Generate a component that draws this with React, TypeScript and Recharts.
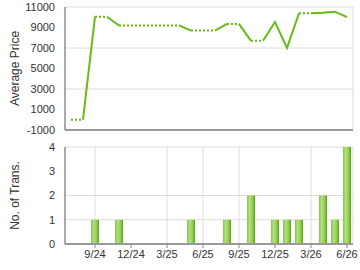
import React from 'react';
import { ComposedChart, Line, Bar, XAxis, YAxis, CartesianGrid } from 'recharts';

// month 1 = 7/24 ... month 24 = 6/26
const MONTH_LABELS = [
    '7/24', '8/24', '9/24', '10/24', '11/24', '12/24', '1/25', '2/25', '3/25', '4/25', '5/25', '6/25',
    '7/25', '8/25', '9/25', '10/25', '11/25', '12/25', '1/26', '2/26', '3/26', '4/26', '5/26', '6/26',
];
const AVG_PRICE = [
    0, 0, 10050, 10050, 9200, 9200, 9200, 9200, 9200, 9200, 8700, 8700,
    8700, 9350, 9350, 7700, 7700, 9540, 7010, 10390, 10390, 10440, 10545, 10020,
];
const TRANSACTIONS = [0, 0, 1, 0, 1, 0, 0, 0, 0, 0, 1, 0, 0, 1, 0, 2, 0, 1, 1, 1, 0, 2, 1, 4];
const X_TICKS = [3, 6, 9, 12, 15, 18, 21, 24];
const PRICE_TICKS = [-1000, 1000, 3000, 5000, 7000, 9000, 11000];
const TRANS_TICKS = [0, 1, 2, 3, 4];

const GREEN = '#66bb11';
const FONT = "Arial, 'Liberation Sans', sans-serif";

// segment into a month with transactions is solid, otherwise dotted;
// runs alternate between two series of each kind so they never join up
const buildRows = () => {
    const rows: any[] = MONTH_LABELS.map((label, i) => ({
        m: i + 1,
        label,
        count: TRANSACTIONS[i],
        solid0: null, solid1: null, dot0: null, dot1: null,
    }));
    const runCount: Record<string, number> = { solid: 0, dot: 0 };
    let prevType = '';
    let key = '';
    for (let i = 0; i < rows.length - 1; i++) {
        const type = TRANSACTIONS[i + 1] > 0 ? 'solid' : 'dot';
        if (type !== prevType) {
            key = type + (runCount[type] % 2);
            runCount[type]++;
            prevType = type;
        }
        rows[i][key] = AVG_PRICE[i];
        rows[i + 1][key] = AVG_PRICE[i + 1];
    }
    return rows;
};

const data = buildRows();

const tickStyle = { fontSize: 11, fill: '#333', fontFamily: FONT };
const labelStyle = { textAnchor: 'middle' as const, fontSize: 12, fill: '#333', fontFamily: FONT };

export default function App() {
    return (
        <div style={{ position: 'absolute', left: 0, top: 0, width: 360, height: 270, background: '#fff' }}>
            <ComposedChart width={360} height={140} data={data} margin={{ top: 7, right: 7, left: 0, bottom: 9 }}>
                <CartesianGrid stroke="#dcdcdc" />
                <XAxis
                    dataKey="m"
                    type="number"
                    domain={[0.5, 24.5]}
                    ticks={X_TICKS}
                    tick={false}
                    tickLine={false}
                    height={1}
                    axisLine={{ stroke: '#999', strokeWidth: 2 }}
                />
                <YAxis
                    domain={[-1000, 11000]}
                    ticks={PRICE_TICKS}
                    width={65}
                    tickLine={false}
                    tickSize={8}
                    tickMargin={2}
                    tick={tickStyle}
                    axisLine={{ stroke: '#666' }}
                    label={{ value: 'Average Price', angle: -90, position: 'insideLeft', offset: 15, style: labelStyle }}
                />
                <Line dataKey="dot0" stroke={GREEN} strokeWidth={2} strokeDasharray="2 2" dot={false} isAnimationActive={false} />
                <Line dataKey="dot1" stroke={GREEN} strokeWidth={2} strokeDasharray="2 2" dot={false} isAnimationActive={false} />
                <Line dataKey="solid0" stroke={GREEN} strokeWidth={2} dot={false} isAnimationActive={false} />
                <Line dataKey="solid1" stroke={GREEN} strokeWidth={2} dot={false} isAnimationActive={false} />
            </ComposedChart>
            <ComposedChart width={360} height={130} data={data} margin={{ top: 7, right: 7, left: 0, bottom: 0 }}>
                <defs>
                    <linearGradient id="barFill" x1="0" y1="0" x2="1" y2="0">
                        <stop offset="0%" stopColor="#84c64a" />
                        <stop offset="35%" stopColor="#b3e07e" />
                        <stop offset="70%" stopColor="#8ccd50" />
                        <stop offset="100%" stopColor="#5aa30f" />
                    </linearGradient>
                </defs>
                <CartesianGrid stroke="#dcdcdc" />
                <XAxis
                    dataKey="m"
                    type="number"
                    domain={[0.5, 24.5]}
                    ticks={X_TICKS}
                    tickFormatter={(v: number) => MONTH_LABELS[v - 1]}
                    height={26}
                    tickSize={4}
                    tickMargin={2}
                    tick={tickStyle}
                    tickLine={{ stroke: '#888' }}
                    axisLine={{ stroke: '#999', strokeWidth: 2 }}
                />
                <YAxis
                    domain={[0, 4]}
                    ticks={TRANS_TICKS}
                    width={65}
                    tickLine={false}
                    tickSize={8}
                    tickMargin={2}
                    tick={tickStyle}
                    axisLine={{ stroke: '#666' }}
                    label={{ value: 'No. of Trans.', angle: -90, position: 'insideLeft', offset: 15, style: labelStyle }}
                />
                <Bar dataKey="count" barSize={8} fill="url(#barFill)" isAnimationActive={false} />
            </ComposedChart>
        </div>
    );
}
